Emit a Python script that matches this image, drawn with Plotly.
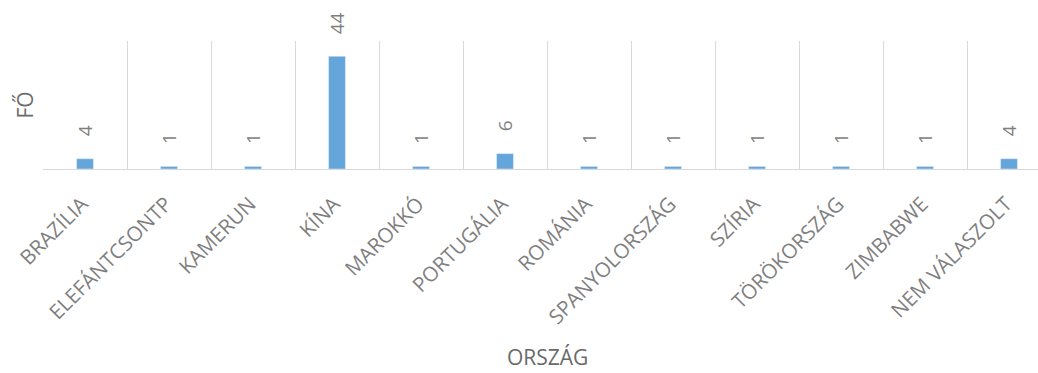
import plotly.graph_objects as go

categories = ["BRAZÍLIA", "ELEFÁNTCSONTP", "KAMERUN", "KÍNA", "MAROKKÓ", "PORTUGÁLIA",
              "ROMÁNIA", "SPANYOLORSZÁG", "SZÍRIA", "TÖRÖKORSZÁG", "ZIMBABWE", "NEM VÁLASZOLT"]
values = [4, 1, 1, 44, 1, 6, 1, 1, 1, 1, 1, 4]
x_title = "ORSZÁG"
y_title = "FŐ"

BAR = "#64A5DB"
TXT = "#7f7f7f"
FONT = "Open Sans"

fig = go.Figure(go.Bar(x=categories, y=values, marker_color=BAR, width=0.2))

for c, v in zip(categories, values):
    fig.add_annotation(x=c, y=v, text=str(v), showarrow=False, textangle=-90,
                       yanchor="bottom", yshift=20,
                       font=dict(family=FONT, size=19, color=TXT))

fig.add_annotation(x=5.5, xref="x", y=-1.47, yref="paper", yanchor="middle",
                   text=x_title, showarrow=False,
                   font=dict(family=FONT, size=21, color="#6a6a6a"))

fig.update_layout(
    width=1038, height=373,
    margin=dict(l=43, r=0, t=41, b=204),
    plot_bgcolor="white", paper_bgcolor="white",
    showlegend=False,
    xaxis=dict(range=[-0.5, 11.345], tickson="boundaries", showgrid=True,
               gridcolor="#d9d9d9", gridwidth=1, showline=True, linecolor="#d9d9d9",
               linewidth=1, ticks="", tickangle=-45, ticklabelstandoff=14,
               ticklabelshift=-3,
               tickfont=dict(family=FONT, size=20.5, color=TXT)),
    yaxis=dict(range=[0, 50], showgrid=False, showticklabels=False, zeroline=False,
               title=dict(text=y_title, font=dict(family=FONT, size=21, color="#6a6a6a"),
                          standoff=2)),
)

fig.write_html("out.html")
